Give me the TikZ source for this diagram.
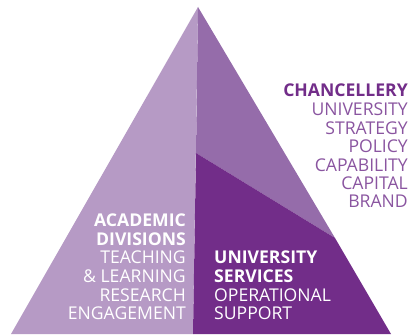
\documentclass[tikz,border=0pt]{standalone}
\usepackage{fontspec}
\setmainfont{Open Sans}
\definecolor{plight}{HTML}{B69AC5}
\definecolor{pmid}{HTML}{956CAA}
\definecolor{pdark}{HTML}{722D89}
\definecolor{ptext}{HTML}{8A55A0}
\begin{document}
\begin{tikzpicture}[x=1pt,y=-1pt,
  txt/.style={inner sep=0pt,font=\fontsize{17.6}{20}\selectfont},
  bold/.style={txt,font=\fontsize{17.6}{20}\selectfont\bfseries},
  rt/.style={anchor=base east},
  lt/.style={anchor=base west}]
\useasboundingbox (0,0) rectangle (411,334);
\coordinate (apex) at (198,7);
\coordinate (bl) at (11,334);
\coordinate (br) at (391,334);
\coordinate (db) at (193,334);
\coordinate (dm) at (196,153);
\coordinate (re) at (335,238);
\fill[plight] (apex) -- (bl) -- (db) -- cycle;
\fill[pmid] (apex) -- (dm) -- (re) -- cycle;
\fill[pdark] (dm) -- (re) -- (br) -- (db) -- cycle;
% Chancellery
\node[bold,rt,text=pdark] (c1) at (408,96) {CHANCELLERY};
\node[txt,rt,text=ptext] (c2) at (408,115) {UNIVERSITY};
\node[txt,rt,text=ptext] (c3) at (408,134) {STRATEGY};
\node[txt,rt,text=ptext] (c4) at (408,152) {POLICY};
\node[txt,rt,text=ptext] (c5) at (408,171) {CAPABILITY};
\node[txt,rt,text=ptext] (c6) at (408,189) {CAPITAL};
\node[txt,rt,text=ptext] (c7) at (408,207) {BRAND};
% Academic
\node[bold,rt,text=white] (a1) at (186,226) {ACADEMIC};
\node[bold,rt,text=white] (a2) at (186,245) {DIVISIONS};
\node[txt,rt,text=white] (a3) at (186,263) {TEACHING};
\node[txt,rt,text=white] (a4) at (186,282) {\& LEARNING};
\node[txt,rt,text=white] (a5) at (186,301) {RESEARCH};
\node[txt,rt,text=white] (a6) at (186,319) {ENGAGEMENT};
% Services
\node[bold,lt,text=white] (s1) at (214,263) {UNIVERSITY};
\node[bold,lt,text=white] (s2) at (214,282) {SERVICES};
\node[txt,lt,text=white] (s3) at (214,301) {OPERATIONAL};
\node[txt,lt,text=white] (s4) at (214,319) {SUPPORT};
\end{tikzpicture}
\end{document}
